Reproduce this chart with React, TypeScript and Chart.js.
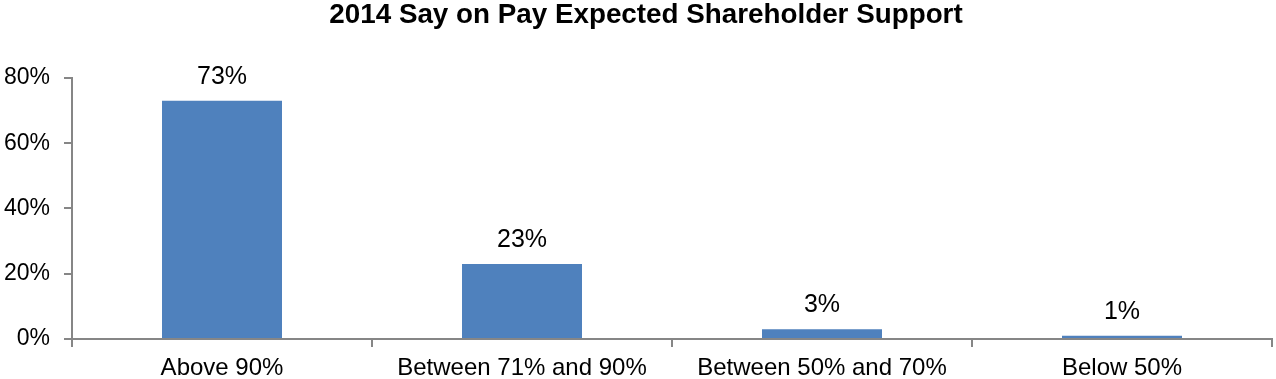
import React, { useEffect, useRef } from "react";
import { Chart, registerables } from "chart.js";

Chart.register(...registerables);

const categories = ["Above 90%", "Between 71% and 90%", "Between 50% and 70%", "Below 50%"];
const supportValues = [73, 23, 3, 1];
const yTicks = [0, 20, 40, 60, 80];
const titleText = "2014 Say on Pay Expected Shareholder Support";

const AXIS = "#868686";
const BAR = "#4F81BD";
const FONT = "'Liberation Sans', Arial, sans-serif";

const dataLabels = {
  id: "dataLabels",
  afterLayout(chart: any) {
    if (chart.titleBlock) {
      chart.titleBlock.left += 20;
    }
  },
  afterDatasetsDraw(chart: any) {
    const ctx = chart.ctx;
    const meta = chart.getDatasetMeta(0);
    ctx.save();
    ctx.fillStyle = "#000";
    ctx.font = `25px ${FONT}`;
    ctx.textAlign = "center";
    ctx.textBaseline = "alphabetic";
    meta.data.forEach((bar: any, i: number) => {
      ctx.fillText(supportValues[i] + "%", bar.x, bar.y - 17);
    });
    ctx.restore();
  },
};

export default function App() {
  const ref = useRef<HTMLCanvasElement | null>(null);
  useEffect(() => {
    if (!ref.current) return;
    const chart = new Chart(ref.current, {
      type: "bar",
      data: {
        labels: categories,
        datasets: [
          {
            data: supportValues,
            backgroundColor: BAR,
            borderWidth: 0,
            categoryPercentage: 1,
            barPercentage: 0.4,
          },
        ],
      },
      options: {
        animation: false,
        responsive: false,
        maintainAspectRatio: false,
        layout: { padding: { left: 0, right: 4, top: 0, bottom: 0 } },
        plugins: {
          legend: { display: false },
          tooltip: { enabled: false },
          title: {
            display: true,
            text: titleText,
            color: "#000",
            font: { family: FONT, size: 27.8, weight: "bold", lineHeight: 1.1 },
            padding: { top: 0, bottom: 47.4 },
          },
        },
        scales: {
          x: {
            offset: true,
            grid: {
              offset: true,
              drawOnChartArea: false,
              drawTicks: true,
              tickLength: 8,
              color: AXIS,
              lineWidth: 2,
            },
            border: { display: true, color: AXIS, width: 2 },
            ticks: {
              color: "#000",
              font: { family: FONT, size: 24 },
              padding: 7,
              maxRotation: 0,
              autoSkip: false,
            },
            afterFit(scale: any) {
              scale.height = 40;
            },
          },
          y: {
            min: 0,
            max: 80,
            afterBuildTicks(scale: any) {
              scale.ticks = yTicks.map((v) => ({ value: v }));
            },
            grid: {
              drawOnChartArea: false,
              drawTicks: true,
              tickLength: 8,
              color: AXIS,
              lineWidth: 2,
            },
            border: { display: true, color: AXIS, width: 2 },
            ticks: {
              color: "#000",
              font: { family: FONT, size: 23 },
              padding: 14,
              callback: (v: any) => v + "%",
            },
            afterFit(scale: any) {
              scale.width = 72;
            },
          },
        },
      },
      plugins: [dataLabels],
    });
    return () => chart.destroy();
  }, []);
  return (
    <div style={{ position: "absolute", left: 0, top: 0, width: 1276, height: 379, background: "#fff" }}>
      <canvas ref={ref} width={1276} height={379} style={{ width: 1276, height: 379, display: "block" }} />
    </div>
  );
}
